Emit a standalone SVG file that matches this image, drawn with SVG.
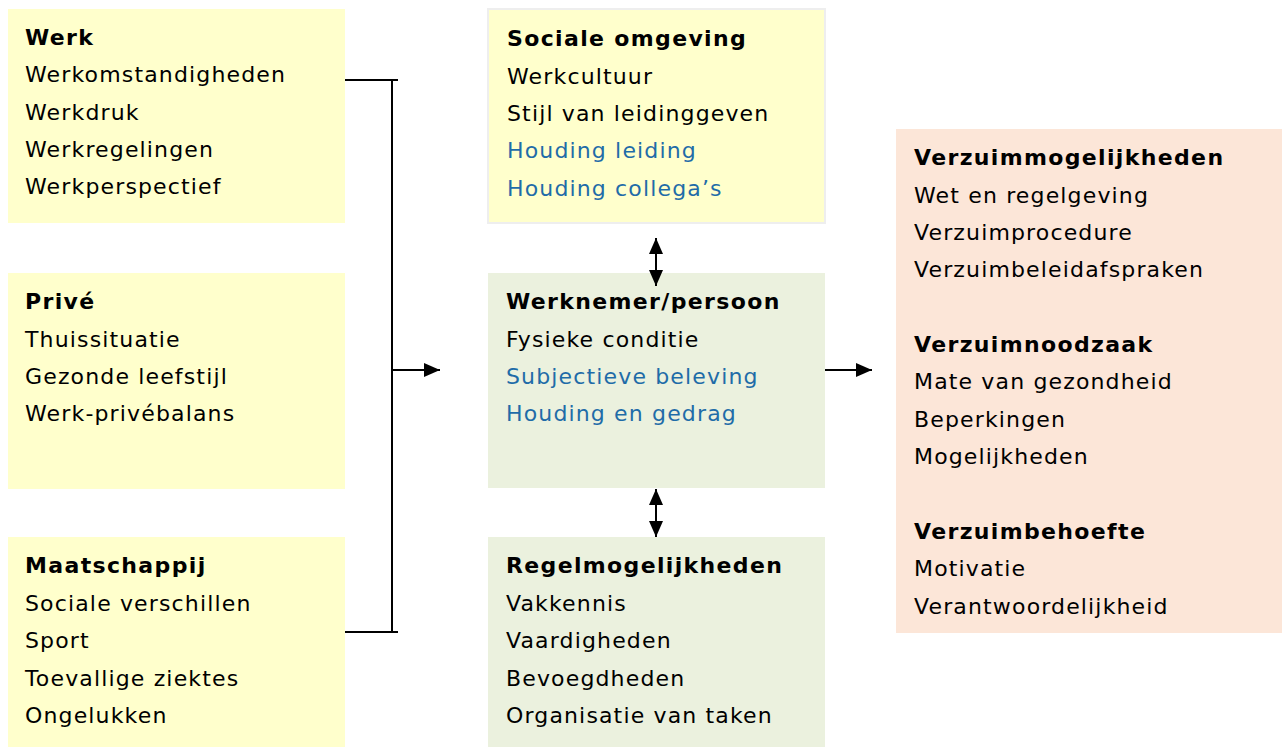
<svg xmlns="http://www.w3.org/2000/svg" width="1282" height="747" viewBox="0 0 1282 747">
<style>
text{font-family:"DejaVu Sans",Verdana,sans-serif;font-size:22px;fill:#000;letter-spacing:1.15px}
.b{font-weight:bold;letter-spacing:1.35px}
.blue{fill:#1F6CA8}
.y{fill:#FFFFCC}
.g{fill:#EBF1DE}
.p{fill:#FCE6D8}
.ln{stroke:#000;stroke-width:2;fill:none}
</style>
<defs>
<marker id="ah" viewBox="0 0 16 14" refX="16" refY="7" markerWidth="8" markerHeight="7" orient="auto-start-reverse" markerUnits="strokeWidth"><path d="M0,0L16,7L0,14z" fill="#000"/></marker>
</defs>
<rect width="1282" height="747" fill="#fff"/>
<g id="werk"><rect class="y" x="8" y="9" width="337" height="214"/>
<text class="b" x="25" y="45">Werk</text><text x="25" y="82">Werkomstandigheden</text><text x="25" y="120">Werkdruk</text><text x="25" y="157">Werkregelingen</text><text x="25" y="194">Werkperspectief</text></g>
<g id="prive"><rect class="y" x="8" y="273" width="337" height="216"/>
<text class="b" x="25" y="309">Privé</text><text x="25" y="347">Thuissituatie</text><text x="25" y="384">Gezonde leefstijl</text><text x="25" y="421">Werk-privébalans</text></g>
<g id="maatschappij"><rect class="y" x="8" y="537" width="337" height="210"/>
<text class="b" x="25" y="573">Maatschappij</text><text x="25" y="611">Sociale verschillen</text><text x="25" y="648">Sport</text><text x="25" y="686">Toevallige ziektes</text><text x="25" y="723">Ongelukken</text></g>
<g id="sociale"><rect class="y" x="488" y="9" width="337" height="214" stroke="#EEEEEE" stroke-width="2"/>
<text class="b" x="507" y="46">Sociale omgeving</text><text x="507" y="84">Werkcultuur</text><text x="507" y="121">Stijl van leidinggeven</text><text class="blue" x="507" y="158">Houding leiding</text><text class="blue" x="507" y="196">Houding collega’s</text></g>
<g id="werknemer"><rect class="g" x="488" y="273" width="337" height="215"/>
<text class="b" x="506" y="309">Werknemer/persoon</text><text x="506" y="347">Fysieke conditie</text><text class="blue" x="506" y="384">Subjectieve beleving</text><text class="blue" x="506" y="421">Houding en gedrag</text></g>
<g id="regel"><rect class="g" x="488" y="537" width="337" height="210"/>
<text class="b" x="506" y="573">Regelmogelijkheden</text><text x="506" y="611">Vakkennis</text><text x="506" y="648">Vaardigheden</text><text x="506" y="686">Bevoegdheden</text><text x="506" y="723">Organisatie van taken</text></g>
<g id="verzuim"><rect class="p" x="896" y="129" width="386" height="504"/>
<text class="b" x="914" y="165">Verzuimmogelijkheden</text><text x="914" y="203">Wet en regelgeving</text><text x="914" y="240">Verzuimprocedure</text><text x="914" y="277">Verzuimbeleidafspraken</text>
<text class="b" x="914" y="352">Verzuimnoodzaak</text><text x="914" y="389">Mate van gezondheid</text><text x="914" y="427">Beperkingen</text><text x="914" y="464">Mogelijkheden</text>
<text class="b" x="914" y="539">Verzuimbehoefte</text><text x="914" y="576">Motivatie</text><text x="914" y="614">Verantwoordelijkheid</text></g>
<g id="connectors">
<path class="ln" d="M345,80H398M345,632H398M392,80V632"/>
<path class="ln" d="M392,370H440" marker-end="url(#ah)"/>
<path class="ln" d="M825,370H872" marker-end="url(#ah)"/>
<path class="ln" d="M656,238V286" marker-start="url(#ah)" marker-end="url(#ah)"/>
<path class="ln" d="M656,489V537" marker-start="url(#ah)" marker-end="url(#ah)"/>
</g>
</svg>
